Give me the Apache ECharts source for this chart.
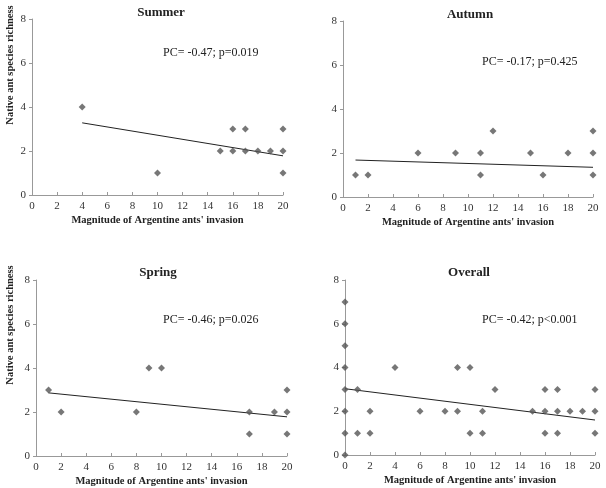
<!DOCTYPE html>
<html><head><meta charset="utf-8">
<script src="https://cdn.jsdelivr.net/npm/echarts@6/dist/echarts.min.js"></script>
<style>html,body{margin:0;padding:0;background:#fff}#c{width:606px;height:488px}</style>
</head><body><div id="c"></div>
<script>
const panelTitles = ['Summer', 'Autumn', 'Spring', 'Overall'];
const statLabels = ['PC= -0.47; p=0.019', 'PC= -0.17; p=0.425', 'PC= -0.46; p=0.026', 'PC= -0.42; p<0.001'];
const xAxisName = "Magnitude of Argentine ants' invasion";
const yAxisName = 'Native ant species richness';

const summerPoints = [[4,4],[10,1],[15,2],[16,3],[16,2],[17,3],[17,2],[18,2],[19,2],[20,3],[20,2],[20,1]];
const autumnPoints = [[1,1],[2,1],[6,2],[9,2],[11,2],[11,1],[12,3],[15,2],[16,1],[18,2],[20,3],[20,2],[20,1]];
const springPoints = [[1,3],[2,2],[8,2],[9,4],[10,4],[17,2],[17,1],[19,2],[20,3],[20,2],[20,1]];
const overallPoints = [[0,7],[0,6],[0,5],[0,4],[0,3],[0,2],[0,1],[0,0],[1,3],[1,1],[2,2],[2,1],[4,4],[6,2],[8,2],[9,4],[9,2],[10,4],[10,1],[11,2],[11,1],[12,3],[15,2],[16,3],[16,2],[16,1],[17,3],[17,2],[17,1],[18,2],[19,2],[20,3],[20,2],[20,1]];

const summerFit = [[4,3.28],[20,1.78]];
const autumnFit = [[1,1.68],[20,1.35]];
const springFit = [[1,2.87],[20,1.78]];
const overallFit = [[0,3.03],[20,1.6]];

const pointsSets = [summerPoints, autumnPoints, springPoints, overallPoints];
const fitSets = [summerFit, autumnFit, springFit, overallFit];

const FONT = "'Liberation Serif', 'DejaVu Serif', serif";
const grids = [
  {left: 32, top: 19, width: 251, height: 176},
  {left: 343, top: 21, width: 250, height: 176},
  {left: 36, top: 280, width: 251, height: 176},
  {left: 345, top: 280, width: 250, height: 175}
];
const titlePos = [[156, 1], [465, 3], [153, 261], [464, 261]];
const statPos = [[163, 47], [482, 56], [163, 314], [482, 314]];
const yNamePos = [[10, 65], null, [10, 325], null];

const axisLine = {show: true, lineStyle: {color: '#999', width: 1}};
const xAxes = [], yAxes = [], series = [], titles = [], graphics = [];
for (let i = 0; i < 4; i++) {
  xAxes.push({
    gridIndex: i, type: 'value', min: 0, max: 20, interval: 2,
    axisLine: axisLine, axisTick: {show: true, inside: true, length: 3, lineStyle: {color: '#999'}},
    splitLine: {show: false},
    axisLabel: {fontFamily: FONT, fontSize: 11, color: '#333', margin: 6},
    name: xAxisName, nameLocation: 'middle', nameGap: 20,
    nameTextStyle: {fontFamily: FONT, fontSize: 10.5, fontWeight: 'bold', color: '#222'}
  });
  yAxes.push({
    gridIndex: i, type: 'value', min: 0, max: 8, interval: 2,
    axisLine: axisLine, axisTick: {show: true, length: 3, lineStyle: {color: '#999'}},
    splitLine: {show: false},
    axisLabel: {fontFamily: FONT, fontSize: 11, color: '#333', margin: 6}
  });
  series.push({
    type: 'scatter', xAxisIndex: i, yAxisIndex: i, data: pointsSets[i],
    symbol: 'diamond', symbolSize: 7, itemStyle: {color: '#555'}, z: 3
  });
  series.push({
    type: 'line', xAxisIndex: i, yAxisIndex: i, data: fitSets[i],
    symbol: 'none', lineStyle: {color: '#222', width: 1}, z: 2
  });
  titles.push({
    text: panelTitles[i], left: titlePos[i][0], top: titlePos[i][1], textAlign: 'center',
    textStyle: {fontFamily: FONT, fontSize: 13, fontWeight: 'bold', color: '#222'}
  });
  graphics.push({
    type: 'text', left: statPos[i][0], top: statPos[i][1],
    style: {text: statLabels[i], font: "12px " + FONT, fill: '#222'}
  });
  if (yNamePos[i]) {
    graphics.push({
      type: 'text', x: yNamePos[i][0], y: yNamePos[i][1], rotation: Math.PI / 2,
      style: {text: yAxisName, font: "bold 10.5px " + FONT, fill: '#222', align: 'center', verticalAlign: 'middle'}
    });
  }
}

const chart = echarts.init(document.getElementById('c'), null, {renderer: 'canvas'});
chart.setOption({
  backgroundColor: '#fff',
  animation: false,
  title: titles,
  grid: grids,
  xAxis: xAxes,
  yAxis: yAxes,
  series: series,
  graphic: graphics
});
</script></body></html>
